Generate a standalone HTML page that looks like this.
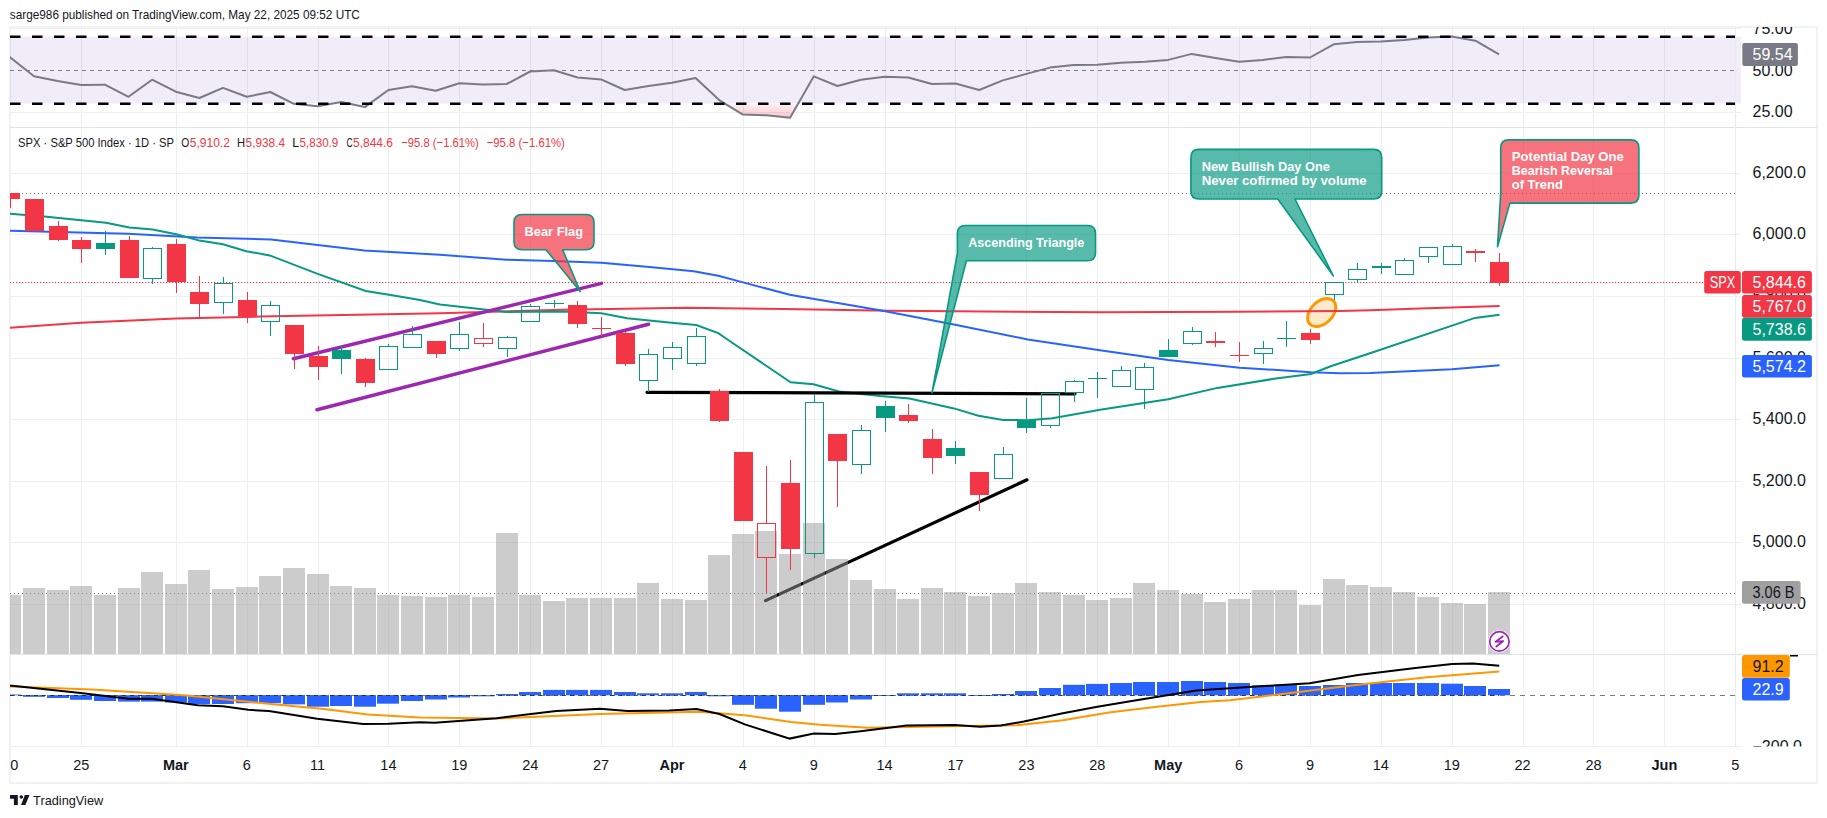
<!DOCTYPE html>
<html><head><meta charset="utf-8"><title>SPX chart</title>
<style>html,body{margin:0;padding:0;background:#fff;} svg{display:block;} text{font-family:"Liberation Sans", sans-serif;}</style>
</head><body>
<svg width="1827" height="818" viewBox="0 0 1827 818">
<defs>
<clipPath id="cRsi"><rect x="10" y="27" width="1726" height="100.5"/></clipPath>
<clipPath id="cMain"><rect x="10" y="128" width="1726" height="526.5"/></clipPath>
<clipPath id="cMacd"><rect x="10" y="655" width="1726" height="91.5"/></clipPath>
<clipPath id="cAxRsi"><rect x="1736" y="27" width="81" height="100.5"/></clipPath>
<clipPath id="cAxMacd"><rect x="1736" y="655" width="81" height="91.5"/></clipPath>
<linearGradient id="pinkg" x1="0" y1="0" x2="0" y2="1"><stop offset="0" stop-color="#F23645" stop-opacity="0.02"/><stop offset="1" stop-color="#F23645" stop-opacity="0.28"/></linearGradient>
</defs>
<rect x="0" y="0" width="1827" height="818" fill="#fff"/>

<text x="9.85" y="19" font-size="13" fill="#131722" textLength="350" lengthAdjust="spacingAndGlyphs">sarge986 published on TradingView.com, May 22, 2025 09:52 UTC</text>
<rect x="10" y="27" width="1807" height="756" fill="none" stroke="#F2F2F2" stroke-width="2"/>
<g>
<line x1="81.5" y1="27" x2="81.5" y2="127" stroke="#EDEFF0" stroke-width="1"/><line x1="176.5" y1="27" x2="176.5" y2="127" stroke="#EDEFF0" stroke-width="1"/><line x1="247.5" y1="27" x2="247.5" y2="127" stroke="#EDEFF0" stroke-width="1"/><line x1="318.5" y1="27" x2="318.5" y2="127" stroke="#EDEFF0" stroke-width="1"/><line x1="388.5" y1="27" x2="388.5" y2="127" stroke="#EDEFF0" stroke-width="1"/><line x1="459.5" y1="27" x2="459.5" y2="127" stroke="#EDEFF0" stroke-width="1"/><line x1="530.5" y1="27" x2="530.5" y2="127" stroke="#EDEFF0" stroke-width="1"/><line x1="601.5" y1="27" x2="601.5" y2="127" stroke="#EDEFF0" stroke-width="1"/><line x1="672.5" y1="27" x2="672.5" y2="127" stroke="#EDEFF0" stroke-width="1"/><line x1="743.5" y1="27" x2="743.5" y2="127" stroke="#EDEFF0" stroke-width="1"/><line x1="814.5" y1="27" x2="814.5" y2="127" stroke="#EDEFF0" stroke-width="1"/><line x1="885.5" y1="27" x2="885.5" y2="127" stroke="#EDEFF0" stroke-width="1"/><line x1="955.5" y1="27" x2="955.5" y2="127" stroke="#EDEFF0" stroke-width="1"/><line x1="1026.5" y1="27" x2="1026.5" y2="127" stroke="#EDEFF0" stroke-width="1"/><line x1="1097.5" y1="27" x2="1097.5" y2="127" stroke="#EDEFF0" stroke-width="1"/><line x1="1168.5" y1="27" x2="1168.5" y2="127" stroke="#EDEFF0" stroke-width="1"/><line x1="1239.5" y1="27" x2="1239.5" y2="127" stroke="#EDEFF0" stroke-width="1"/><line x1="1310.5" y1="27" x2="1310.5" y2="127" stroke="#EDEFF0" stroke-width="1"/><line x1="1381.5" y1="27" x2="1381.5" y2="127" stroke="#EDEFF0" stroke-width="1"/><line x1="1452.5" y1="27" x2="1452.5" y2="127" stroke="#EDEFF0" stroke-width="1"/><line x1="1523.5" y1="27" x2="1523.5" y2="127" stroke="#EDEFF0" stroke-width="1"/><line x1="1593.5" y1="27" x2="1593.5" y2="127" stroke="#EDEFF0" stroke-width="1"/><line x1="1664.5" y1="27" x2="1664.5" y2="127" stroke="#EDEFF0" stroke-width="1"/><line x1="1735.5" y1="27" x2="1735.5" y2="127" stroke="#EDEFF0" stroke-width="1"/>
<line x1="10" y1="28.5" x2="1741" y2="28.5" stroke="#EDEFF0" stroke-width="1"/>
<line x1="10" y1="112.5" x2="1741" y2="112.5" stroke="#EDEFF0" stroke-width="1"/>
<rect x="10" y="36.8" width="1731" height="66.8" fill="#7E57C2" fill-opacity="0.11"/>
</g>
<g clip-path="url(#cRsi)">
<polygon points="723.4,104.0 719.2,100.1 742.9,114.6 766.5,115.3 790.1,117.7 797.9,104.0" fill="url(#pinkg)"/>
<polyline points="-13.3,45.0 10.4,57.5 34.0,76.3 57.6,81.1 81.3,85.0 104.9,84.7 128.5,96.8 152.1,79.7 175.8,91.7 199.4,98.0 223.0,87.9 246.7,96.8 270.3,92.0 293.9,103.8 317.5,106.2 341.2,102.1 364.8,107.1 388.4,90.0 412.1,86.2 435.7,90.8 459.3,83.3 482.9,84.5 506.6,84.0 530.2,71.5 553.8,70.3 577.5,77.5 601.1,79.4 624.7,90.0 648.4,86.0 672.0,82.8 695.6,78.0 719.2,100.1 742.9,114.6 766.5,115.3 790.1,117.7 813.8,76.3 837.4,86.0 861.0,79.7 884.6,76.8 908.3,77.5 931.9,84.0 955.5,83.5 979.2,90.0 1002.8,80.4 1026.4,73.9 1050.0,67.6 1073.7,65.0 1097.3,64.7 1120.9,62.8 1144.6,61.8 1168.2,59.9 1191.8,53.9 1215.4,58.0 1239.1,61.8 1262.7,59.9 1286.3,57.0 1310.0,57.5 1333.6,44.3 1357.2,41.9 1380.8,41.4 1404.5,39.9 1428.1,37.5 1451.7,36.6 1475.4,40.7 1499.0,54.4" fill="none" stroke="#787B86" stroke-width="2" stroke-linejoin="round"/>
<line x1="10" y1="70.5" x2="1736" y2="70.5" stroke="#787B86" stroke-width="1" stroke-dasharray="4,4"/>
<line x1="10" y1="36.8" x2="1736" y2="36.8" stroke="#000" stroke-width="2.6" stroke-dasharray="10.5,11.5"/>
<line x1="10" y1="103.8" x2="1736" y2="103.8" stroke="#000" stroke-width="2.6" stroke-dasharray="10.5,11.5"/>
</g>
<line x1="10" y1="127.5" x2="1817" y2="127.5" stroke="#E0E3EB" stroke-width="1"/>
<g>
<line x1="81.5" y1="128" x2="81.5" y2="654" stroke="#EDEFF0" stroke-width="1"/><line x1="176.5" y1="128" x2="176.5" y2="654" stroke="#EDEFF0" stroke-width="1"/><line x1="247.5" y1="128" x2="247.5" y2="654" stroke="#EDEFF0" stroke-width="1"/><line x1="318.5" y1="128" x2="318.5" y2="654" stroke="#EDEFF0" stroke-width="1"/><line x1="388.5" y1="128" x2="388.5" y2="654" stroke="#EDEFF0" stroke-width="1"/><line x1="459.5" y1="128" x2="459.5" y2="654" stroke="#EDEFF0" stroke-width="1"/><line x1="530.5" y1="128" x2="530.5" y2="654" stroke="#EDEFF0" stroke-width="1"/><line x1="601.5" y1="128" x2="601.5" y2="654" stroke="#EDEFF0" stroke-width="1"/><line x1="672.5" y1="128" x2="672.5" y2="654" stroke="#EDEFF0" stroke-width="1"/><line x1="743.5" y1="128" x2="743.5" y2="654" stroke="#EDEFF0" stroke-width="1"/><line x1="814.5" y1="128" x2="814.5" y2="654" stroke="#EDEFF0" stroke-width="1"/><line x1="885.5" y1="128" x2="885.5" y2="654" stroke="#EDEFF0" stroke-width="1"/><line x1="955.5" y1="128" x2="955.5" y2="654" stroke="#EDEFF0" stroke-width="1"/><line x1="1026.5" y1="128" x2="1026.5" y2="654" stroke="#EDEFF0" stroke-width="1"/><line x1="1097.5" y1="128" x2="1097.5" y2="654" stroke="#EDEFF0" stroke-width="1"/><line x1="1168.5" y1="128" x2="1168.5" y2="654" stroke="#EDEFF0" stroke-width="1"/><line x1="1239.5" y1="128" x2="1239.5" y2="654" stroke="#EDEFF0" stroke-width="1"/><line x1="1310.5" y1="128" x2="1310.5" y2="654" stroke="#EDEFF0" stroke-width="1"/><line x1="1381.5" y1="128" x2="1381.5" y2="654" stroke="#EDEFF0" stroke-width="1"/><line x1="1452.5" y1="128" x2="1452.5" y2="654" stroke="#EDEFF0" stroke-width="1"/><line x1="1523.5" y1="128" x2="1523.5" y2="654" stroke="#EDEFF0" stroke-width="1"/><line x1="1593.5" y1="128" x2="1593.5" y2="654" stroke="#EDEFF0" stroke-width="1"/><line x1="1664.5" y1="128" x2="1664.5" y2="654" stroke="#EDEFF0" stroke-width="1"/><line x1="1735.5" y1="128" x2="1735.5" y2="654" stroke="#EDEFF0" stroke-width="1"/>
<line x1="10" y1="173.5" x2="1741" y2="173.5" stroke="#EDEFF0" stroke-width="1"/>
<line x1="10" y1="234.5" x2="1741" y2="234.5" stroke="#EDEFF0" stroke-width="1"/>
<line x1="10" y1="296.5" x2="1741" y2="296.5" stroke="#EDEFF0" stroke-width="1"/>
<line x1="10" y1="358.5" x2="1741" y2="358.5" stroke="#EDEFF0" stroke-width="1"/>
<line x1="10" y1="419.5" x2="1741" y2="419.5" stroke="#EDEFF0" stroke-width="1"/>
<line x1="10" y1="481.5" x2="1741" y2="481.5" stroke="#EDEFF0" stroke-width="1"/>
<line x1="10" y1="542.5" x2="1741" y2="542.5" stroke="#EDEFF0" stroke-width="1"/>
<line x1="10" y1="604.5" x2="1741" y2="604.5" stroke="#EDEFF0" stroke-width="1"/>
</g>
<g clip-path="url(#cMain)">
<line x1="10" y1="193.5" x2="1739" y2="193.5" stroke="#787B86" stroke-width="1" stroke-dasharray="1,3"/>
<line x1="10" y1="282.5" x2="1739" y2="282.5" stroke="#F23645" stroke-width="1" stroke-dasharray="1.3,1.7"/>
<line x1="10" y1="593.5" x2="1739" y2="593.5" stroke="#787B86" stroke-width="1" stroke-dasharray="1,3"/>
<ellipse cx="1321.7" cy="312.5" rx="11" ry="16.6" transform="rotate(45 1321.7 312.5)" fill="#FF9800" fill-opacity="0.2" stroke="#FF9800" stroke-width="3"/>
<polyline points="0.0,328.2 10.0,327.7 81.0,322.7 176.5,318.5 260.0,316.6 440.0,313.2 563.0,309.7 686.3,307.8 784.8,309.0 890.0,310.7 1101.7,312.3 1236.0,311.8 1340.0,311.0 1370.0,310.3 1420.0,308.6 1499.6,305.9" fill="none" stroke="#F23645" stroke-width="2"/>
<polyline points="0.0,230.6 10.0,230.8 128.0,233.7 197.0,237.4 271.0,239.4 364.5,250.5 440.0,254.8 506.5,259.7 553.3,260.9 601.3,262.7 649.4,267.1 693.7,271.3 718.3,275.7 743.0,282.4 789.8,294.7 814.4,299.1 880.0,310.3 953.9,324.6 1027.8,339.4 1101.7,350.5 1168.2,359.9 1239.6,367.7 1311.0,372.2 1340.0,373.3 1370.0,372.9 1403.0,371.4 1452.0,369.2 1499.6,365.3" fill="none" stroke="#2962FF" stroke-width="2"/>
<polyline points="0.0,213.2 10.0,213.8 44.3,216.5 106.0,222.7 129.3,227.6 152.7,229.6 177.3,234.5 199.5,240.6 222.9,244.3 246.3,251.2 269.7,255.4 317.7,273.9 365.8,291.0 389.0,294.8 418.7,299.8 440.0,304.5 506.5,312.0 563.0,311.4 601.3,313.2 627.2,318.3 674.0,323.0 696.2,325.0 718.3,333.1 728.2,340.0 790.6,382.3 813.5,384.2 839.0,391.5 880.0,396.0 909.6,398.5 953.9,408.4 978.5,415.8 1003.2,420.0 1027.8,420.2 1052.4,418.2 1101.7,409.6 1168.2,399.3 1217.4,387.9 1274.0,378.8 1311.0,373.9 1330.0,366.5 1370.0,353.3 1475.0,317.9 1499.6,314.8" fill="none" stroke="#089981" stroke-width="2"/>
<line x1="293.4" y1="358.7" x2="601.5" y2="283.4" stroke="#9C27B0" stroke-width="3.5" stroke-linecap="round"/>
<line x1="317" y1="409.8" x2="648.5" y2="324.3" stroke="#9C27B0" stroke-width="3.5" stroke-linecap="round"/>
<line x1="647" y1="392.3" x2="1075" y2="393.8" stroke="#000" stroke-width="3.2" stroke-linecap="round"/>
<line x1="765.5" y1="600.6" x2="1027" y2="479.8" stroke="#000" stroke-width="3.2" stroke-linecap="round"/>
<rect x="-1" y="595" width="22" height="59" fill="#999" fill-opacity="0.5"/>
<rect x="23" y="588" width="22" height="66" fill="#999" fill-opacity="0.5"/>
<rect x="47" y="590" width="22" height="64" fill="#999" fill-opacity="0.5"/>
<rect x="70" y="586" width="22" height="68" fill="#999" fill-opacity="0.5"/>
<rect x="94" y="595" width="22" height="59" fill="#999" fill-opacity="0.5"/>
<rect x="118" y="588" width="22" height="66" fill="#999" fill-opacity="0.5"/>
<rect x="141" y="572" width="22" height="82" fill="#999" fill-opacity="0.5"/>
<rect x="165" y="584" width="22" height="70" fill="#999" fill-opacity="0.5"/>
<rect x="188" y="570" width="22" height="84" fill="#999" fill-opacity="0.5"/>
<rect x="212" y="589" width="22" height="65" fill="#999" fill-opacity="0.5"/>
<rect x="236" y="587" width="22" height="67" fill="#999" fill-opacity="0.5"/>
<rect x="259" y="576" width="22" height="78" fill="#999" fill-opacity="0.5"/>
<rect x="283" y="568" width="22" height="86" fill="#999" fill-opacity="0.5"/>
<rect x="307" y="574" width="22" height="80" fill="#999" fill-opacity="0.5"/>
<rect x="330" y="586" width="22" height="68" fill="#999" fill-opacity="0.5"/>
<rect x="354" y="588" width="22" height="66" fill="#999" fill-opacity="0.5"/>
<rect x="377" y="595" width="22" height="59" fill="#999" fill-opacity="0.5"/>
<rect x="401" y="596" width="22" height="58" fill="#999" fill-opacity="0.5"/>
<rect x="425" y="597" width="22" height="57" fill="#999" fill-opacity="0.5"/>
<rect x="448" y="595" width="22" height="59" fill="#999" fill-opacity="0.5"/>
<rect x="472" y="597" width="22" height="57" fill="#999" fill-opacity="0.5"/>
<rect x="496" y="533" width="22" height="121" fill="#999" fill-opacity="0.5"/>
<rect x="519" y="595" width="22" height="59" fill="#999" fill-opacity="0.5"/>
<rect x="543" y="601" width="22" height="53" fill="#999" fill-opacity="0.5"/>
<rect x="566" y="598" width="22" height="56" fill="#999" fill-opacity="0.5"/>
<rect x="590" y="598" width="22" height="56" fill="#999" fill-opacity="0.5"/>
<rect x="614" y="598" width="22" height="56" fill="#999" fill-opacity="0.5"/>
<rect x="637" y="583" width="22" height="71" fill="#999" fill-opacity="0.5"/>
<rect x="661" y="599" width="22" height="55" fill="#999" fill-opacity="0.5"/>
<rect x="685" y="600" width="22" height="54" fill="#999" fill-opacity="0.5"/>
<rect x="708" y="555" width="22" height="99" fill="#999" fill-opacity="0.5"/>
<rect x="732" y="534" width="22" height="120" fill="#999" fill-opacity="0.5"/>
<rect x="755" y="531" width="22" height="123" fill="#999" fill-opacity="0.5"/>
<rect x="779" y="554" width="22" height="100" fill="#999" fill-opacity="0.5"/>
<rect x="803" y="523" width="22" height="131" fill="#999" fill-opacity="0.5"/>
<rect x="826" y="559" width="22" height="95" fill="#999" fill-opacity="0.5"/>
<rect x="850" y="580" width="22" height="74" fill="#999" fill-opacity="0.5"/>
<rect x="874" y="589" width="22" height="65" fill="#999" fill-opacity="0.5"/>
<rect x="897" y="599" width="22" height="55" fill="#999" fill-opacity="0.5"/>
<rect x="921" y="588" width="22" height="66" fill="#999" fill-opacity="0.5"/>
<rect x="944" y="592" width="22" height="62" fill="#999" fill-opacity="0.5"/>
<rect x="968" y="596" width="22" height="58" fill="#999" fill-opacity="0.5"/>
<rect x="992" y="593" width="22" height="61" fill="#999" fill-opacity="0.5"/>
<rect x="1015" y="583" width="22" height="71" fill="#999" fill-opacity="0.5"/>
<rect x="1039" y="592" width="22" height="62" fill="#999" fill-opacity="0.5"/>
<rect x="1063" y="595" width="22" height="59" fill="#999" fill-opacity="0.5"/>
<rect x="1086" y="600" width="22" height="54" fill="#999" fill-opacity="0.5"/>
<rect x="1110" y="598" width="22" height="56" fill="#999" fill-opacity="0.5"/>
<rect x="1133" y="583" width="22" height="71" fill="#999" fill-opacity="0.5"/>
<rect x="1157" y="590" width="22" height="64" fill="#999" fill-opacity="0.5"/>
<rect x="1181" y="594" width="22" height="60" fill="#999" fill-opacity="0.5"/>
<rect x="1204" y="602" width="22" height="52" fill="#999" fill-opacity="0.5"/>
<rect x="1228" y="599" width="22" height="55" fill="#999" fill-opacity="0.5"/>
<rect x="1252" y="590" width="22" height="64" fill="#999" fill-opacity="0.5"/>
<rect x="1275" y="590" width="22" height="64" fill="#999" fill-opacity="0.5"/>
<rect x="1299" y="605" width="22" height="49" fill="#999" fill-opacity="0.5"/>
<rect x="1323" y="579" width="22" height="75" fill="#999" fill-opacity="0.5"/>
<rect x="1346" y="585" width="22" height="69" fill="#999" fill-opacity="0.5"/>
<rect x="1370" y="587" width="22" height="67" fill="#999" fill-opacity="0.5"/>
<rect x="1393" y="592" width="22" height="62" fill="#999" fill-opacity="0.5"/>
<rect x="1417" y="597" width="22" height="57" fill="#999" fill-opacity="0.5"/>
<rect x="1441" y="603" width="22" height="51" fill="#999" fill-opacity="0.5"/>
<rect x="1464" y="604" width="22" height="50" fill="#999" fill-opacity="0.5"/>
<rect x="1488" y="592" width="22" height="62" fill="#999" fill-opacity="0.5"/>
<rect x="10" y="193" width="1" height="15" fill="#F23645"/>
<rect x="1" y="193" width="19" height="6" fill="#F23645"/>
<rect x="34" y="199" width="1" height="32" fill="#F23645"/>
<rect x="25" y="199" width="19" height="32" fill="#F23645"/>
<rect x="58" y="221" width="1" height="20" fill="#F23645"/>
<rect x="49" y="226" width="19" height="14" fill="#F23645"/>
<rect x="81" y="237" width="1" height="26" fill="#F23645"/>
<rect x="72" y="240" width="19" height="9" fill="#F23645"/>
<rect x="105" y="231" width="1" height="24" fill="#089981"/>
<rect x="96" y="243" width="19" height="6" fill="#089981"/>
<rect x="129" y="236" width="1" height="42" fill="#F23645"/>
<rect x="120" y="240" width="19" height="38" fill="#F23645"/>
<rect x="152" y="247" width="1" height="1" fill="#089981"/>
<rect x="152" y="279" width="1" height="5" fill="#089981"/>
<rect x="143.5" y="248.5" width="18" height="30" fill="none" stroke="#089981" stroke-width="1"/>
<rect x="176" y="239" width="1" height="54" fill="#F23645"/>
<rect x="167" y="244" width="19" height="38" fill="#F23645"/>
<rect x="199" y="276" width="1" height="41" fill="#F23645"/>
<rect x="190" y="292" width="19" height="12" fill="#F23645"/>
<rect x="223" y="277" width="1" height="6" fill="#089981"/>
<rect x="223" y="303" width="1" height="11" fill="#089981"/>
<rect x="214.5" y="283.5" width="18" height="19" fill="none" stroke="#089981" stroke-width="1"/>
<rect x="247" y="292" width="1" height="31" fill="#F23645"/>
<rect x="238" y="300" width="19" height="16" fill="#F23645"/>
<rect x="270" y="301" width="1" height="4" fill="#089981"/>
<rect x="270" y="322" width="1" height="14" fill="#089981"/>
<rect x="261.5" y="305.5" width="18" height="16" fill="none" stroke="#089981" stroke-width="1"/>
<rect x="294" y="325" width="1" height="44" fill="#F23645"/>
<rect x="285" y="325" width="19" height="29" fill="#F23645"/>
<rect x="318" y="346" width="1" height="34" fill="#F23645"/>
<rect x="309" y="356" width="19" height="11" fill="#F23645"/>
<rect x="341" y="345" width="1" height="29" fill="#089981"/>
<rect x="332" y="350" width="19" height="9" fill="#089981"/>
<rect x="365" y="358" width="1" height="29" fill="#F23645"/>
<rect x="356" y="359" width="19" height="24" fill="#F23645"/>
<rect x="388" y="344" width="1" height="2" fill="#089981"/>
<rect x="379.5" y="346.5" width="18" height="23" fill="none" stroke="#089981" stroke-width="1"/>
<rect x="412" y="326" width="1" height="8" fill="#089981"/>
<rect x="403.5" y="334.5" width="18" height="13" fill="none" stroke="#089981" stroke-width="1"/>
<rect x="436" y="341" width="1" height="17" fill="#F23645"/>
<rect x="427" y="341" width="19" height="13" fill="#F23645"/>
<rect x="459" y="322" width="1" height="12" fill="#089981"/>
<rect x="459" y="349" width="1" height="2" fill="#089981"/>
<rect x="450.5" y="334.5" width="18" height="14" fill="none" stroke="#089981" stroke-width="1"/>
<rect x="483" y="323" width="1" height="15" fill="#F23645"/>
<rect x="483" y="344" width="1" height="3" fill="#F23645"/>
<rect x="474.5" y="338.5" width="18" height="5" fill="none" stroke="#F23645" stroke-width="1"/>
<rect x="507" y="336" width="1" height="1" fill="#089981"/>
<rect x="507" y="349" width="1" height="8" fill="#089981"/>
<rect x="498.5" y="337.5" width="18" height="11" fill="none" stroke="#089981" stroke-width="1"/>
<rect x="530" y="304" width="1" height="2" fill="#089981"/>
<rect x="521.5" y="306.5" width="18" height="15" fill="none" stroke="#089981" stroke-width="1"/>
<rect x="554" y="300" width="1" height="8" fill="#089981"/>
<rect x="545" y="303" width="19" height="1" fill="#089981"/>
<rect x="577" y="301" width="1" height="27" fill="#F23645"/>
<rect x="568" y="305" width="19" height="19" fill="#F23645"/>
<rect x="601" y="317" width="1" height="19" fill="#F23645"/>
<rect x="592" y="328" width="19" height="1" fill="#F23645"/>
<rect x="625" y="331" width="1" height="35" fill="#F23645"/>
<rect x="616" y="333" width="19" height="31" fill="#F23645"/>
<rect x="648" y="349" width="1" height="5" fill="#089981"/>
<rect x="648" y="381" width="1" height="11" fill="#089981"/>
<rect x="639.5" y="354.5" width="18" height="26" fill="none" stroke="#089981" stroke-width="1"/>
<rect x="672" y="342" width="1" height="5" fill="#089981"/>
<rect x="672" y="359" width="1" height="11" fill="#089981"/>
<rect x="663.5" y="347.5" width="18" height="11" fill="none" stroke="#089981" stroke-width="1"/>
<rect x="696" y="328" width="1" height="8" fill="#089981"/>
<rect x="696" y="364" width="1" height="2" fill="#089981"/>
<rect x="687.5" y="336.5" width="18" height="27" fill="none" stroke="#089981" stroke-width="1"/>
<rect x="719" y="389" width="1" height="33" fill="#F23645"/>
<rect x="710" y="391" width="19" height="30" fill="#F23645"/>
<rect x="743" y="452" width="1" height="69" fill="#F23645"/>
<rect x="734" y="452" width="19" height="69" fill="#F23645"/>
<rect x="766" y="466" width="1" height="57" fill="#F23645"/>
<rect x="766" y="558" width="1" height="35" fill="#F23645"/>
<rect x="757.5" y="523.5" width="18" height="34" fill="none" stroke="#F23645" stroke-width="1"/>
<rect x="790" y="460" width="1" height="110" fill="#F23645"/>
<rect x="781" y="483" width="19" height="66" fill="#F23645"/>
<rect x="814" y="395" width="1" height="7" fill="#089981"/>
<rect x="814" y="554" width="1" height="4" fill="#089981"/>
<rect x="805.5" y="402.5" width="18" height="151" fill="none" stroke="#089981" stroke-width="1"/>
<rect x="837" y="434" width="1" height="73" fill="#F23645"/>
<rect x="828" y="434" width="19" height="27" fill="#F23645"/>
<rect x="861" y="425" width="1" height="5" fill="#089981"/>
<rect x="861" y="465" width="1" height="9" fill="#089981"/>
<rect x="852.5" y="430.5" width="18" height="34" fill="none" stroke="#089981" stroke-width="1"/>
<rect x="885" y="401" width="1" height="31" fill="#089981"/>
<rect x="876" y="406" width="19" height="12" fill="#089981"/>
<rect x="908" y="404" width="1" height="19" fill="#F23645"/>
<rect x="899" y="415" width="19" height="6" fill="#F23645"/>
<rect x="932" y="429" width="1" height="45" fill="#F23645"/>
<rect x="923" y="439" width="19" height="19" fill="#F23645"/>
<rect x="955" y="441" width="1" height="23" fill="#089981"/>
<rect x="946" y="448" width="19" height="8" fill="#089981"/>
<rect x="979" y="472" width="1" height="39" fill="#F23645"/>
<rect x="970" y="472" width="19" height="23" fill="#F23645"/>
<rect x="1003" y="447" width="1" height="7" fill="#089981"/>
<rect x="994.5" y="454.5" width="18" height="24" fill="none" stroke="#089981" stroke-width="1"/>
<rect x="1026" y="398" width="1" height="35" fill="#089981"/>
<rect x="1017" y="420" width="19" height="8" fill="#089981"/>
<rect x="1050" y="426" width="1" height="2" fill="#089981"/>
<rect x="1041.5" y="393.5" width="18" height="32" fill="none" stroke="#089981" stroke-width="1"/>
<rect x="1074" y="380" width="1" height="1" fill="#089981"/>
<rect x="1074" y="393" width="1" height="9" fill="#089981"/>
<rect x="1065.5" y="381.5" width="18" height="11" fill="none" stroke="#089981" stroke-width="1"/>
<rect x="1097" y="372" width="1" height="26" fill="#089981"/>
<rect x="1088" y="378" width="19" height="1" fill="#089981"/>
<rect x="1121" y="366" width="1" height="4" fill="#089981"/>
<rect x="1112.5" y="370.5" width="18" height="16" fill="none" stroke="#089981" stroke-width="1"/>
<rect x="1144" y="363" width="1" height="4" fill="#089981"/>
<rect x="1144" y="390" width="1" height="19" fill="#089981"/>
<rect x="1135.5" y="367.5" width="18" height="22" fill="none" stroke="#089981" stroke-width="1"/>
<rect x="1168" y="339" width="1" height="18" fill="#089981"/>
<rect x="1159" y="350" width="19" height="7" fill="#089981"/>
<rect x="1192" y="327" width="1" height="4" fill="#089981"/>
<rect x="1192" y="344" width="1" height="1" fill="#089981"/>
<rect x="1183.5" y="331.5" width="18" height="12" fill="none" stroke="#089981" stroke-width="1"/>
<rect x="1215" y="332" width="1" height="15" fill="#F23645"/>
<rect x="1206" y="341" width="19" height="2" fill="#F23645"/>
<rect x="1239" y="342" width="1" height="20" fill="#F23645"/>
<rect x="1230" y="355" width="19" height="1" fill="#F23645"/>
<rect x="1263" y="341" width="1" height="7" fill="#089981"/>
<rect x="1263" y="354" width="1" height="10" fill="#089981"/>
<rect x="1254.5" y="348.5" width="18" height="5" fill="none" stroke="#089981" stroke-width="1"/>
<rect x="1286" y="321" width="1" height="26" fill="#089981"/>
<rect x="1277" y="338" width="19" height="1" fill="#089981"/>
<rect x="1310" y="329" width="1" height="15" fill="#F23645"/>
<rect x="1301" y="333" width="19" height="7" fill="#F23645"/>
<rect x="1334" y="295" width="1" height="5" fill="#089981"/>
<rect x="1325.5" y="282.5" width="18" height="12" fill="none" stroke="#089981" stroke-width="1"/>
<rect x="1357" y="263" width="1" height="6" fill="#089981"/>
<rect x="1357" y="280" width="1" height="2" fill="#089981"/>
<rect x="1348.5" y="269.5" width="18" height="10" fill="none" stroke="#089981" stroke-width="1"/>
<rect x="1381" y="263" width="1" height="11" fill="#089981"/>
<rect x="1372" y="266" width="19" height="2" fill="#089981"/>
<rect x="1404" y="258" width="1" height="2" fill="#089981"/>
<rect x="1395.5" y="260.5" width="18" height="14" fill="none" stroke="#089981" stroke-width="1"/>
<rect x="1428" y="257" width="1" height="6" fill="#089981"/>
<rect x="1419.5" y="247.5" width="18" height="9" fill="none" stroke="#089981" stroke-width="1"/>
<rect x="1452" y="244" width="1" height="2" fill="#089981"/>
<rect x="1443.5" y="246.5" width="18" height="18" fill="none" stroke="#089981" stroke-width="1"/>
<rect x="1475" y="249" width="1" height="13" fill="#F23645"/>
<rect x="1466" y="251" width="19" height="2" fill="#F23645"/>
<rect x="1499" y="253" width="1" height="33" fill="#F23645"/>
<rect x="1490" y="262" width="19" height="21" fill="#F23645"/>
</g>
<line x1="10" y1="654.5" x2="1817" y2="654.5" stroke="#E0E3EB" stroke-width="1"/>
<g clip-path="url(#cMain)">
<path d="M522,214.5 H586 Q594,214.5 594,222.5 V241.7 Q594,249.7 586,249.7 H562.7 L580.2,291.5 L546,249.7 H522 Q514,249.7 514,241.7 V222.5 Q514,214.5 522,214.5 Z" fill="#F23645" fill-opacity="0.7" stroke="#089981" stroke-width="1.6" stroke-linejoin="round"/>
<text x="524.6" y="235.8" font-size="13" font-weight="bold" fill="#fff" textLength="58.4" lengthAdjust="spacingAndGlyphs">Bear Flag</text>
<path d="M965.4,225.5 H1087.5 Q1095.5,225.5 1095.5,233.5 V252.8 Q1095.5,260.8 1087.5,260.8 H966.4 L932,392.8 L957.4,253 V233.5 Q957.4,225.5 965.4,225.5 Z" fill="#089981" fill-opacity="0.68" stroke="#089981" stroke-width="1.6" stroke-linejoin="round"/>
<text x="968.2" y="246.6" font-size="13" font-weight="bold" fill="#fff" textLength="116.2" lengthAdjust="spacingAndGlyphs">Ascending Triangle</text>
<path d="M1198.9,149.4 H1373.7 Q1381.7,149.4 1381.7,157.4 V191 Q1381.7,199 1373.7,199 H1295 L1333.4,276 L1277.8,199 H1198.9 Q1190.9,199 1190.9,191 V157.4 Q1190.9,149.4 1198.9,149.4 Z" fill="#089981" fill-opacity="0.68" stroke="#089981" stroke-width="1.6" stroke-linejoin="round"/>
<text x="1201.7" y="170.8" font-size="13" font-weight="bold" fill="#fff" textLength="128.3" lengthAdjust="spacingAndGlyphs">New Bullish Day One</text>
<text x="1201.7" y="184.8" font-size="13" font-weight="bold" fill="#fff" textLength="165" lengthAdjust="spacingAndGlyphs">Never cofirmed by volume</text>
<path d="M1508.7,139.9 H1630.9 Q1638.9,139.9 1638.9,147.9 V195.1 Q1638.9,203.1 1630.9,203.1 H1509.9 L1497.5,246.8 L1500.7,193.6 V147.9 Q1500.7,139.9 1508.7,139.9 Z" fill="#F23645" fill-opacity="0.7" stroke="#089981" stroke-width="1.6" stroke-linejoin="round"/>
<text x="1511.8" y="160.7" font-size="13" font-weight="bold" fill="#fff" textLength="112" lengthAdjust="spacingAndGlyphs">Potential Day One</text>
<text x="1511.8" y="174.5" font-size="13" font-weight="bold" fill="#fff" textLength="101.3" lengthAdjust="spacingAndGlyphs">Bearish Reversal</text>
<text x="1511.8" y="188.5" font-size="13" font-weight="bold" fill="#fff" textLength="51.1" lengthAdjust="spacingAndGlyphs">of Trend</text>
<circle cx="1499.4" cy="641.4" r="11.2" fill="#fff"/>
<circle cx="1499.4" cy="641.4" r="9.7" fill="#fff" stroke="#9C27B0" stroke-width="1.7"/>
<polyline points="1502.6,636.4 1495.6,641.7 1503.2,641.1 1496.4,646.6" fill="none" stroke="#9C27B0" stroke-width="1.9" stroke-linejoin="round" stroke-linecap="round"/>
</g>
<text x="18.1" y="147.1" font-size="13" fill="#131722" textLength="155.9" lengthAdjust="spacingAndGlyphs">SPX · S&amp;P 500 Index · 1D · SP</text>
<text x="181.3" y="147.1" font-size="13" fill="#131722" textLength="8.0" lengthAdjust="spacingAndGlyphs">O</text>
<text x="189.8" y="147.1" font-size="13" fill="#F23645" textLength="40.1" lengthAdjust="spacingAndGlyphs">5,910.2</text>
<text x="237.1" y="147.1" font-size="13" fill="#131722" textLength="8.1" lengthAdjust="spacingAndGlyphs">H</text>
<text x="245.6" y="147.1" font-size="13" fill="#F23645" textLength="39.4" lengthAdjust="spacingAndGlyphs">5,938.4</text>
<text x="292.3" y="147.1" font-size="13" fill="#131722" textLength="6.9" lengthAdjust="spacingAndGlyphs">L</text>
<text x="299.5" y="147.1" font-size="13" fill="#F23645" textLength="38.8" lengthAdjust="spacingAndGlyphs">5,830.9</text>
<text x="346.5" y="147.1" font-size="13" fill="#131722" textLength="6.1" lengthAdjust="spacingAndGlyphs">C</text>
<text x="353" y="147.1" font-size="13" fill="#F23645" textLength="40.0" lengthAdjust="spacingAndGlyphs">5,844.6</text>
<text x="401.3" y="147.1" font-size="13" fill="#F23645" textLength="77.5" lengthAdjust="spacingAndGlyphs">−95.8 (−1.61%)</text>
<text x="486.7" y="147.1" font-size="13" fill="#F23645" textLength="78.2" lengthAdjust="spacingAndGlyphs">−95.8 (−1.61%)</text>
<line x1="81.5" y1="655" x2="81.5" y2="746" stroke="#EDEFF0" stroke-width="1"/><line x1="176.5" y1="655" x2="176.5" y2="746" stroke="#EDEFF0" stroke-width="1"/><line x1="247.5" y1="655" x2="247.5" y2="746" stroke="#EDEFF0" stroke-width="1"/><line x1="318.5" y1="655" x2="318.5" y2="746" stroke="#EDEFF0" stroke-width="1"/><line x1="388.5" y1="655" x2="388.5" y2="746" stroke="#EDEFF0" stroke-width="1"/><line x1="459.5" y1="655" x2="459.5" y2="746" stroke="#EDEFF0" stroke-width="1"/><line x1="530.5" y1="655" x2="530.5" y2="746" stroke="#EDEFF0" stroke-width="1"/><line x1="601.5" y1="655" x2="601.5" y2="746" stroke="#EDEFF0" stroke-width="1"/><line x1="672.5" y1="655" x2="672.5" y2="746" stroke="#EDEFF0" stroke-width="1"/><line x1="743.5" y1="655" x2="743.5" y2="746" stroke="#EDEFF0" stroke-width="1"/><line x1="814.5" y1="655" x2="814.5" y2="746" stroke="#EDEFF0" stroke-width="1"/><line x1="885.5" y1="655" x2="885.5" y2="746" stroke="#EDEFF0" stroke-width="1"/><line x1="955.5" y1="655" x2="955.5" y2="746" stroke="#EDEFF0" stroke-width="1"/><line x1="1026.5" y1="655" x2="1026.5" y2="746" stroke="#EDEFF0" stroke-width="1"/><line x1="1097.5" y1="655" x2="1097.5" y2="746" stroke="#EDEFF0" stroke-width="1"/><line x1="1168.5" y1="655" x2="1168.5" y2="746" stroke="#EDEFF0" stroke-width="1"/><line x1="1239.5" y1="655" x2="1239.5" y2="746" stroke="#EDEFF0" stroke-width="1"/><line x1="1310.5" y1="655" x2="1310.5" y2="746" stroke="#EDEFF0" stroke-width="1"/><line x1="1381.5" y1="655" x2="1381.5" y2="746" stroke="#EDEFF0" stroke-width="1"/><line x1="1452.5" y1="655" x2="1452.5" y2="746" stroke="#EDEFF0" stroke-width="1"/><line x1="1523.5" y1="655" x2="1523.5" y2="746" stroke="#EDEFF0" stroke-width="1"/><line x1="1593.5" y1="655" x2="1593.5" y2="746" stroke="#EDEFF0" stroke-width="1"/><line x1="1664.5" y1="655" x2="1664.5" y2="746" stroke="#EDEFF0" stroke-width="1"/><line x1="1735.5" y1="655" x2="1735.5" y2="746" stroke="#EDEFF0" stroke-width="1"/>
<line x1="10" y1="746.5" x2="1741" y2="746.5" stroke="#EDEFF0" stroke-width="1"/>
<g clip-path="url(#cMacd)">
<line x1="10" y1="695.5" x2="1736" y2="695.5" stroke="#787B86" stroke-width="1" stroke-dasharray="5,5"/>
<rect x="-1" y="694.5" width="22" height="0.8" fill="#2962FF"/>
<rect x="23" y="695.2" width="22" height="1.6" fill="#2962FF"/>
<rect x="47" y="695.2" width="22" height="2.8" fill="#2962FF"/>
<rect x="70" y="695.2" width="22" height="4.6" fill="#2962FF"/>
<rect x="94" y="695.2" width="22" height="5.8" fill="#2962FF"/>
<rect x="118" y="695.2" width="22" height="6.4" fill="#2962FF"/>
<rect x="141" y="695.2" width="22" height="6.4" fill="#2962FF"/>
<rect x="165" y="695.2" width="22" height="7.3" fill="#2962FF"/>
<rect x="188" y="695.2" width="22" height="8.8" fill="#2962FF"/>
<rect x="212" y="695.2" width="22" height="8.8" fill="#2962FF"/>
<rect x="236" y="695.2" width="22" height="8.0" fill="#2962FF"/>
<rect x="259" y="695.2" width="22" height="8.0" fill="#2962FF"/>
<rect x="283" y="695.2" width="22" height="9.2" fill="#2962FF"/>
<rect x="307" y="695.2" width="22" height="11.5" fill="#2962FF"/>
<rect x="330" y="695.2" width="22" height="10.8" fill="#2962FF"/>
<rect x="354" y="695.2" width="22" height="11.5" fill="#2962FF"/>
<rect x="377" y="695.2" width="22" height="8.5" fill="#2962FF"/>
<rect x="401" y="695.2" width="22" height="5.8" fill="#2962FF"/>
<rect x="425" y="695.2" width="22" height="4.3" fill="#2962FF"/>
<rect x="448" y="695.2" width="22" height="2.3" fill="#2962FF"/>
<rect x="472" y="695.2" width="22" height="1.1" fill="#2962FF"/>
<rect x="496" y="694.0" width="22" height="1.2" fill="#2962FF"/>
<rect x="519" y="692.0" width="22" height="3.2" fill="#2962FF"/>
<rect x="543" y="689.9" width="22" height="5.3" fill="#2962FF"/>
<rect x="566" y="689.9" width="22" height="5.3" fill="#2962FF"/>
<rect x="590" y="689.9" width="22" height="5.3" fill="#2962FF"/>
<rect x="614" y="692.0" width="22" height="3.2" fill="#2962FF"/>
<rect x="637" y="693.3" width="22" height="1.9" fill="#2962FF"/>
<rect x="661" y="693.3" width="22" height="1.9" fill="#2962FF"/>
<rect x="685" y="692.0" width="22" height="3.2" fill="#2962FF"/>
<rect x="708" y="695.2" width="22" height="1.1" fill="#2962FF"/>
<rect x="732" y="695.2" width="22" height="9.6" fill="#2962FF"/>
<rect x="755" y="695.2" width="22" height="13.5" fill="#2962FF"/>
<rect x="779" y="695.2" width="22" height="16.5" fill="#2962FF"/>
<rect x="803" y="695.2" width="22" height="9.6" fill="#2962FF"/>
<rect x="826" y="695.2" width="22" height="7.3" fill="#2962FF"/>
<rect x="850" y="695.2" width="22" height="4.3" fill="#2962FF"/>
<rect x="874" y="695.2" width="22" height="0.8" fill="#2962FF"/>
<rect x="897" y="693.3" width="22" height="1.9" fill="#2962FF"/>
<rect x="921" y="693.3" width="22" height="1.9" fill="#2962FF"/>
<rect x="944" y="693.3" width="22" height="1.9" fill="#2962FF"/>
<rect x="968" y="695.2" width="22" height="0.8" fill="#2962FF"/>
<rect x="992" y="694.0" width="22" height="1.2" fill="#2962FF"/>
<rect x="1015" y="691.0" width="22" height="4.2" fill="#2962FF"/>
<rect x="1039" y="688.0" width="22" height="7.2" fill="#2962FF"/>
<rect x="1063" y="684.8" width="22" height="10.4" fill="#2962FF"/>
<rect x="1086" y="683.9" width="22" height="11.3" fill="#2962FF"/>
<rect x="1110" y="683.0" width="22" height="12.2" fill="#2962FF"/>
<rect x="1133" y="682.0" width="22" height="13.2" fill="#2962FF"/>
<rect x="1157" y="682.0" width="22" height="13.2" fill="#2962FF"/>
<rect x="1181" y="681.0" width="22" height="14.2" fill="#2962FF"/>
<rect x="1204" y="682.0" width="22" height="13.2" fill="#2962FF"/>
<rect x="1228" y="683.0" width="22" height="12.2" fill="#2962FF"/>
<rect x="1252" y="685.3" width="22" height="9.9" fill="#2962FF"/>
<rect x="1275" y="684.4" width="22" height="10.8" fill="#2962FF"/>
<rect x="1299" y="686.0" width="22" height="9.2" fill="#2962FF"/>
<rect x="1323" y="685.0" width="22" height="10.2" fill="#2962FF"/>
<rect x="1346" y="683.0" width="22" height="12.2" fill="#2962FF"/>
<rect x="1370" y="683.0" width="22" height="12.2" fill="#2962FF"/>
<rect x="1393" y="683.0" width="22" height="12.2" fill="#2962FF"/>
<rect x="1417" y="683.0" width="22" height="12.2" fill="#2962FF"/>
<rect x="1441" y="683.7" width="22" height="11.5" fill="#2962FF"/>
<rect x="1464" y="686.0" width="22" height="9.2" fill="#2962FF"/>
<rect x="1488" y="689.0" width="22" height="6.2" fill="#2962FF"/>
<line x1="10" y1="695.5" x2="1499" y2="695.5" stroke="#131722" stroke-width="1" stroke-dasharray="4,4" stroke-opacity="0.7"/>
<polyline points="0.0,686.3 10.0,686.5 92.0,689.6 184.0,695.3 275.9,704.5 321.8,708.7 367.8,714.4 420.0,717.6 496.6,718.6 600.0,714.0 698.9,711.7 744.8,715.2 790.8,722.0 820.0,724.8 867.5,727.8 948.0,726.2 1017.0,725.2 1062.9,720.2 1108.8,712.4 1154.8,707.1 1200.7,702.0 1230.0,700.2 1358.0,684.8 1427.0,677.2 1499.3,671.5" fill="none" stroke="#FF9800" stroke-width="2"/>
<polyline points="0.0,684.0 10.0,685.4 80.5,693.0 128.7,698.8 151.7,698.8 197.7,705.2 223.0,706.3 248.3,709.8 269.0,711.0 317.2,718.8 363.2,724.0 388.5,723.8 420.0,722.2 434.5,722.8 496.6,718.2 531.0,714.0 556.3,711.0 600.0,708.7 627.6,711.0 669.0,710.6 696.6,709.0 719.5,714.0 744.8,724.4 789.7,738.6 813.8,733.6 835.3,734.0 860.6,731.3 906.6,725.5 954.8,725.0 980.0,726.7 1000.8,725.5 1023.8,721.6 1062.9,713.3 1097.4,706.7 1131.8,700.9 1168.6,695.0 1196.2,690.6 1230.0,688.3 1309.7,683.2 1358.0,675.0 1415.4,668.0 1452.2,664.1 1472.9,663.4 1499.3,665.7" fill="none" stroke="#000" stroke-width="2"/>
</g>
<line x1="1735.5" y1="27" x2="1735.5" y2="746.5" stroke="#E9EBEE" stroke-width="1"/>
<text x="1752.5" y="33.5" font-size="16" fill="#131722" clip-path="url(#cAxRsi)">75.00</text>
<text x="1752.5" y="75.5" font-size="16" fill="#131722">50.00</text>
<text x="1752.5" y="117.2" font-size="16" fill="#131722">25.00</text>
<rect x="1742.3" y="43.1" width="55.6" height="22.8" rx="2" fill="#787B86"/>
<text x="1752.5" y="59.9" font-size="16" fill="#fff">59.54</text>
<text x="1752.5" y="177.6" font-size="16" fill="#131722">6,200.0</text>
<text x="1752.5" y="238.6" font-size="16" fill="#131722">6,000.0</text>
<text x="1752.5" y="300.6" font-size="16" fill="#131722">5,800.0</text>
<text x="1752.5" y="362.6" font-size="16" fill="#131722">5,600.0</text>
<text x="1752.5" y="423.6" font-size="16" fill="#131722">5,400.0</text>
<text x="1752.5" y="485.6" font-size="16" fill="#131722">5,200.0</text>
<text x="1752.5" y="546.6" font-size="16" fill="#131722">5,000.0</text>
<text x="1752.5" y="608.6" font-size="16" fill="#131722">4,800.0</text>
<rect x="1704.2" y="271" width="36.6" height="22.6" rx="2.5" fill="#F23645"/>
<text x="1709.7" y="287.8" font-size="16" fill="#fff" textLength="25.5" lengthAdjust="spacingAndGlyphs">SPX</text>
<rect x="1742" y="271" width="69.9" height="22.6" rx="2.5" fill="#F23645"/>
<text x="1752.5" y="287.8" font-size="16" fill="#fff">5,844.6</text>
<rect x="1742" y="295.1" width="69.9" height="22.7" rx="2.5" fill="#F23645"/>
<text x="1752.5" y="312.0" font-size="16" fill="#fff">5,767.0</text>
<rect x="1742" y="317.8" width="69.9" height="22.9" rx="2.5" fill="#089981"/>
<text x="1752.5" y="334.8" font-size="16" fill="#fff">5,738.6</text>
<rect x="1742" y="355" width="69.9" height="22.6" rx="2.5" fill="#2962FF"/>
<text x="1752.5" y="371.8" font-size="16" fill="#fff">5,574.2</text>
<rect x="1742" y="581.1" width="58.6" height="22.6" rx="2.5" fill="#A0A0A0"/>
<text x="1752.5" y="597.9" font-size="16" fill="#131722" textLength="42" lengthAdjust="spacingAndGlyphs">3.06 B</text>
<rect x="1742" y="655" width="47.8" height="22.8" rx="2.5" fill="#FF9800"/>
<text x="1752.5" y="671.9" font-size="16" fill="#131722">91.2</text>
<rect x="1742" y="678" width="47.8" height="22.6" rx="2.5" fill="#2962FF"/>
<text x="1752.5" y="694.8" font-size="16" fill="#fff">22.9</text>
<rect x="1790" y="655" width="8" height="1.5" fill="#000"/>
<text x="1752.5" y="751.5" font-size="16" fill="#131722" clip-path="url(#cAxMacd)">−200.0</text>
<clipPath id="cTime"><rect x="10.5" y="747" width="1807" height="35"/></clipPath>
<g clip-path="url(#cTime)">
<text x="10.3" y="770" font-size="14.5" fill="#131722" text-anchor="middle">20</text>
<text x="81.3" y="770" font-size="14.5" fill="#131722" text-anchor="middle">25</text>
<text x="175.8" y="770" font-size="14.5" fill="#131722" text-anchor="middle" font-weight="bold">Mar</text>
<text x="246.7" y="770" font-size="14.5" fill="#131722" text-anchor="middle">6</text>
<text x="317.5" y="770" font-size="14.5" fill="#131722" text-anchor="middle">11</text>
<text x="388.4" y="770" font-size="14.5" fill="#131722" text-anchor="middle">14</text>
<text x="459.3" y="770" font-size="14.5" fill="#131722" text-anchor="middle">19</text>
<text x="530.2" y="770" font-size="14.5" fill="#131722" text-anchor="middle">24</text>
<text x="601.1" y="770" font-size="14.5" fill="#131722" text-anchor="middle">27</text>
<text x="672.0" y="770" font-size="14.5" fill="#131722" text-anchor="middle" font-weight="bold">Apr</text>
<text x="742.9" y="770" font-size="14.5" fill="#131722" text-anchor="middle">4</text>
<text x="813.8" y="770" font-size="14.5" fill="#131722" text-anchor="middle">9</text>
<text x="884.6" y="770" font-size="14.5" fill="#131722" text-anchor="middle">14</text>
<text x="955.5" y="770" font-size="14.5" fill="#131722" text-anchor="middle">17</text>
<text x="1026.4" y="770" font-size="14.5" fill="#131722" text-anchor="middle">23</text>
<text x="1097.3" y="770" font-size="14.5" fill="#131722" text-anchor="middle">28</text>
<text x="1168.2" y="770" font-size="14.5" fill="#131722" text-anchor="middle" font-weight="bold">May</text>
<text x="1239.1" y="770" font-size="14.5" fill="#131722" text-anchor="middle">6</text>
<text x="1310.0" y="770" font-size="14.5" fill="#131722" text-anchor="middle">9</text>
<text x="1380.8" y="770" font-size="14.5" fill="#131722" text-anchor="middle">14</text>
<text x="1451.7" y="770" font-size="14.5" fill="#131722" text-anchor="middle">19</text>
<text x="1522.6" y="770" font-size="14.5" fill="#131722" text-anchor="middle">22</text>
<text x="1593.5" y="770" font-size="14.5" fill="#131722" text-anchor="middle">28</text>
<text x="1664.4" y="770" font-size="14.5" fill="#131722" text-anchor="middle" font-weight="bold">Jun</text>
<text x="1735.3" y="770" font-size="14.5" fill="#131722" text-anchor="middle">5</text>
</g>
<g fill="#131722">
<path d="M10,795 H17.8 V805 H13.9 V798.8 H10 Z"/>
<circle cx="21.3" cy="797" r="1.8"/>
<path d="M24.9,795 H29.5 L25.4,805 H21 Z"/>
</g>
<text x="33.1" y="805" font-size="13" fill="#131722" textLength="70.1" lengthAdjust="spacingAndGlyphs">TradingView</text>
</svg>
</body></html>
